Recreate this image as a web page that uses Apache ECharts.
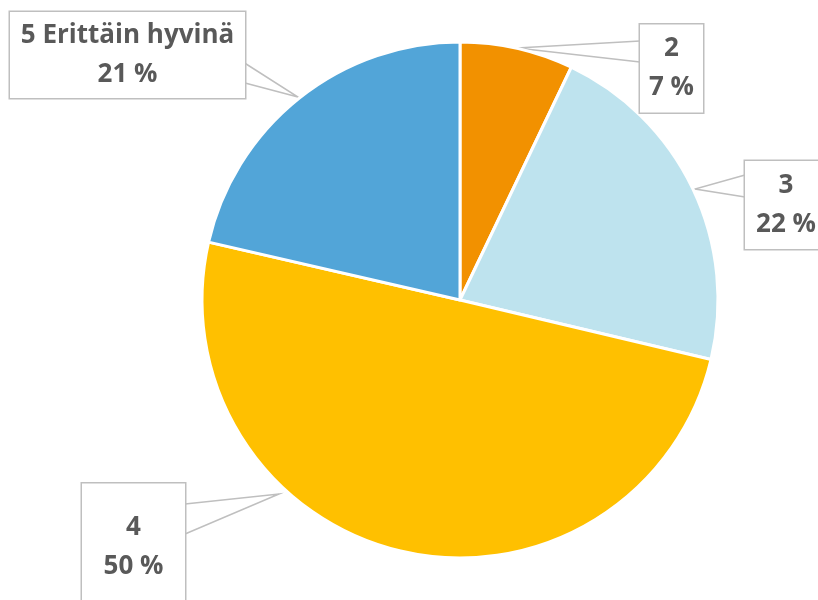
<!DOCTYPE html>
<html>
<head>
<meta charset="utf-8">
<script src="https://cdn.jsdelivr.net/npm/echarts@6/dist/echarts.min.js"></script>
<style>
  html, body { margin: 0; padding: 0; background: #fff; }
  #chart { width: 818px; height: 600px; }
</style>
</head>
<body>
<div id="chart"></div>
<script>
// data
var categories = ["2", "3", "4", "5 Erittäin hyvinä"];
var values = [7.1, 21.6, 49.9, 21.4];
var colors = ["#F29100", "#BEE3EE", "#FFC000", "#52A5D8"];

// callout boxes (layout only): centre x, centre y, box width, vertical padding
var labelBox = [
  [671.5, 68.5, 63, 5],
  [786, 205, 82, 5],
  [133.5, 547.5, 103, 25],
  [127.5, 55, 235, 4]
];
// callout pointers: base point, tip, base point
var pointerPts = [
  [[640, 41], [517, 48], [640, 62]],
  [[745, 175], [695, 189], [745, 197]],
  [[185, 504], [279, 494], [185, 534]],
  [[243, 62], [298, 97], [245, 83]]
];

var chart = echarts.init(document.getElementById("chart"));

var seriesData = categories.map(function (name, i) {
  var b = labelBox[i];
  return {
    name: name,
    value: values[i],
    itemStyle: { color: colors[i] },
    label: { width: b[2], padding: [b[3], 0, b[3], 0] }
  };
});

var option = {
  animation: false,
  series: [
    {
      type: "pie",
      center: [460, 300],
      radius: 258,
      startAngle: 90,
      clockwise: true,
      percentPrecision: 0,
      data: seriesData,
      itemStyle: {
        borderColor: "#fff",
        borderWidth: 3
      },
      label: {
        show: true,
        formatter: "{b}\n{d} %",
        fontFamily: "Open Sans",
        fontWeight: "bold",
        fontSize: 26,
        lineHeight: 39,
        align: "center",
        overflow: "none",
        color: "#595959",
        backgroundColor: "#fff",
        borderColor: "#BFBFBF",
        borderWidth: 1.5
      },
      labelLine: {
        show: true,
        length: 20,
        length2: 20,
        lineStyle: { color: "#BFBFBF", width: 1.5 }
      },
      labelLayout: function (params) {
        var b = labelBox[params.dataIndex];
        return {
          x: b[0],
          y: b[1],
          align: "center",
          verticalAlign: "middle",
          labelLinePoints: pointerPts[params.dataIndex]
        };
      }
    }
  ]
};

chart.setOption(option);
</script>
</body>
</html>
